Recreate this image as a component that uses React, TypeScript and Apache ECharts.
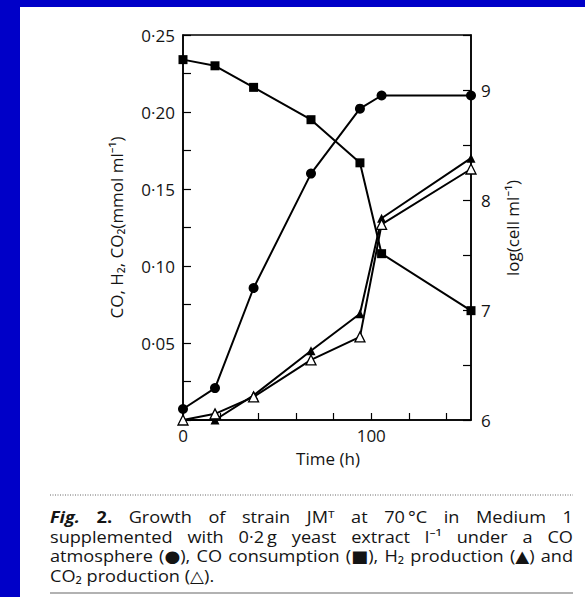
import React, { useEffect, useRef } from "react";
import * as echarts from "echarts";

// ---- data ----
const hours = [0, 17, 37.5, 68, 94, 105.5, 153];
const cellLog = [6.1, 6.29, 7.2, 8.24, 8.83, 8.95, 8.95]; // ● log(cell ml-1), right axis
const coConsumption = [0.234, 0.23, 0.216, 0.195, 0.167, 0.108, 0.071]; // ■
const h2Production = [0, 0, 0.016, 0.045, 0.069, 0.131, 0.17]; // ▲
const co2Production = [0, 0.004, 0.015, 0.039, 0.054, 0.127, 0.163]; // △

const xLabelValues = [0, 100];
const leftAxisName = "CO, H₂, CO₂(mmol ml⁻¹)";
const rightAxisName = "log(cell ml⁻¹)";
const xAxisName = "Time (h)";

const captionLines: string[][] = [
  ["Fig.", "2.", "Growth", "of", "strain", "JMᵀ", "at", "70\u2009°C", "in", "Medium", "1"],
  ["supplemented", "with", "0·2\u2009g", "yeast", "extract", "l⁻¹", "under", "a", "CO"],
  ["atmosphere", "(●),", "CO", "consumption", "(■),", "H₂", "production", "(▲)", "and"],
  ["CO₂", "production", "(△)."],
];

const FONT = '"Open Sans", "Noto Sans", "DejaVu Sans", sans-serif';
const TXT = "#141414";
const OX = 20; // white panel offset inside the blue frame
const OY = 7;

export default function App() {
  const ref = useRef<HTMLDivElement>(null);

  useEffect(() => {
    if (!ref.current) return;
    const chart = echarts.init(ref.current, undefined, { renderer: "svg" });

    // caption layout (justified lines)
    const canvas = document.createElement("canvas");
    const ctx = canvas.getContext("2d")!;
    const capSize = 16.5;
    const capScale = 1.1;
    const capLeft = 50 - OX;
    const capRight = 573 - OX;
    const capY = [516.5 - OY, 536 - OY, 555.5 - OY, 575 - OY];
    const wordStyle = (li: number, wi: number) => {
      if (li === 0 && wi === 0) return { fontWeight: "bold", fontStyle: "italic" };
      if (li === 0 && wi === 1) return { fontWeight: "bold", fontStyle: "normal" };
      return { fontWeight: "normal", fontStyle: "normal" };
    };
    const capElements: any[] = [];
    captionLines.forEach((words, li) => {
      const widths = words.map((w, wi) => {
        const s = wordStyle(li, wi);
        ctx.font = `${s.fontStyle} ${s.fontWeight} ${capSize}px ${FONT}`;
        return ctx.measureText(w).width * capScale;
      });
      const total = widths.reduce((a, b) => a + b, 0);
      const justify = li < captionLines.length - 1;
      ctx.font = `normal normal ${capSize}px ${FONT}`;
      const normalSpace = ctx.measureText(" ").width * capScale;
      const gap = justify ? (capRight - capLeft - total) / (words.length - 1) : normalSpace;
      let x = capLeft;
      words.forEach((w, wi) => {
        const s = wordStyle(li, wi);
        capElements.push({
          type: "text",
          x,
          y: capY[li],
          scaleX: capScale,
          style: {
            text: w,
            fontSize: capSize,
            fontFamily: FONT,
            fontWeight: s.fontWeight,
            fontStyle: s.fontStyle,
            fill: TXT,
            textAlign: "left",
            textVerticalAlign: "middle",
            align: "left",
            verticalAlign: "middle",
          },
        });
        x += widths[wi] + gap;
      });
    });

    const gridLeft = 183 - OX;
    const gridTop = 35 - OY;
    const gridRight = 585 - 471;
    const gridBottom = 597 - 420;

    const lineBase = {
      type: "line" as const,
      clip: false,
      lineStyle: { color: "#000", width: 2 },
      symbolSize: 9,
      z: 3,
    };

    const nameStyle = {
      fontSize: 17,
      fontFamily: FONT,
      fill: TXT,
      textAlign: "center",
      textVerticalAlign: "middle",
      align: "center",
      verticalAlign: "middle",
    };

    chart.setOption({
      animation: false,
      backgroundColor: "#fff",
      grid: {
        left: gridLeft,
        top: gridTop,
        right: gridRight,
        bottom: gridBottom,
        show: true,
        borderColor: "#000",
        borderWidth: 1.5,
        backgroundColor: "transparent",
      },
      xAxis: {
        type: "value",
        min: 0,
        max: 153,
        interval: 20,
        axisLine: { show: true, lineStyle: { color: "#000", width: 1.5 } },
        axisTick: { show: true, inside: true, length: 7, lineStyle: { color: "#000", width: 1.2 } },
        splitLine: { show: false },
        axisLabel: {
          margin: 7,
          fontSize: 17,
          fontFamily: FONT,
          color: TXT,
          showMaxLabel: false,
          formatter: (v: number) =>
            xLabelValues.includes(Math.round(v)) && Math.abs(v - Math.round(v)) < 1e-6 ? String(Math.round(v)) : "",
        },
      },
      yAxis: [
        {
          type: "value",
          position: "left",
          min: 0,
          max: 0.25,
          interval: 0.025,
          axisLine: { show: true, lineStyle: { color: "#000", width: 1.5 } },
          axisTick: { show: true, inside: true, length: 8, lineStyle: { color: "#000", width: 1.2 } },
          splitLine: { show: false },
          axisLabel: {
            margin: 8,
            fontSize: 17,
            fontFamily: FONT,
            color: TXT,
            formatter: (v: number) => {
              const k = Math.round(v * 1000);
              return k > 0 && k % 50 === 0 ? (k / 1000).toFixed(2).replace(".", "·") : "";
            },
          },
        },
        {
          type: "value",
          position: "right",
          min: 6,
          max: 9.5,
          interval: 0.5,
          axisLine: { show: true, lineStyle: { color: "#000", width: 1.5 } },
          axisTick: { show: true, inside: true, length: 8, lineStyle: { color: "#000", width: 1.2 } },
          splitLine: { show: false },
          axisLabel: {
            margin: 10,
            fontSize: 17,
            fontFamily: FONT,
            color: TXT,
            formatter: (v: number) => (Math.abs(v - Math.round(v)) < 1e-6 ? String(Math.round(v)) : ""),
          },
        },
      ],
      series: [
        {
          ...lineBase,
          name: "cells",
          yAxisIndex: 1,
          symbol: "circle",
          symbolSize: 10,
          itemStyle: { color: "#000" },
          data: hours.map((h, i) => [h, cellLog[i]]),
        },
        {
          ...lineBase,
          name: "CO consumption",
          yAxisIndex: 0,
          symbol: "rect",
          symbolSize: 9,
          itemStyle: { color: "#000" },
          data: hours.map((h, i) => [h, coConsumption[i]]),
        },
        {
          ...lineBase,
          name: "H2 production",
          yAxisIndex: 0,
          symbol: "triangle",
          symbolSize: 9,
          itemStyle: { color: "#000" },
          data: hours.map((h, i) => [h, h2Production[i]]),
        },
        {
          ...lineBase,
          name: "CO2 production",
          yAxisIndex: 0,
          symbol: "triangle",
          symbolSize: 10,
          itemStyle: { color: "#fff", borderColor: "#000", borderWidth: 1.3 },
          data: hours.map((h, i) => [h, co2Production[i]]),
        },
      ],
      graphic: [
        {
          type: "text",
          x: 116 - OX,
          y: 227.5 - OY,
          rotation: Math.PI / 2,
          style: { ...nameStyle, text: leftAxisName },
        },
        {
          type: "text",
          x: 512 - OX,
          y: 228 - OY,
          rotation: Math.PI / 2,
          style: { ...nameStyle, text: rightAxisName },
        },
        {
          type: "text",
          x: 328 - OX,
          y: 458 - OY,
          style: { ...nameStyle, text: xAxisName },
        },
        {
          type: "line",
          shape: { x1: 50 - OX, y1: 495 - OY, x2: 573 - OX, y2: 495 - OY },
          style: { stroke: "#666", lineWidth: 1, lineDash: [1, 1.5] },
        },
        {
          type: "line",
          shape: { x1: 50 - OX, y1: 593 - OY, x2: 573 - OX, y2: 593 - OY },
          style: { stroke: "#999", lineWidth: 1.5 },
        },
        ...capElements,
      ],
    });

    return () => chart.dispose();
  }, []);

  return (
    <div
      style={{
        position: "fixed",
        left: 0,
        top: 0,
        width: 585,
        height: 597,
        background: "#0000C8",
        overflow: "hidden",
      }}
    >
      <div
        ref={ref}
        style={{
          position: "absolute",
          left: OX,
          top: OY,
          width: 585 - OX,
          height: 597 - OY,
          background: "#fff",
        }}
      />
    </div>
  );
}
